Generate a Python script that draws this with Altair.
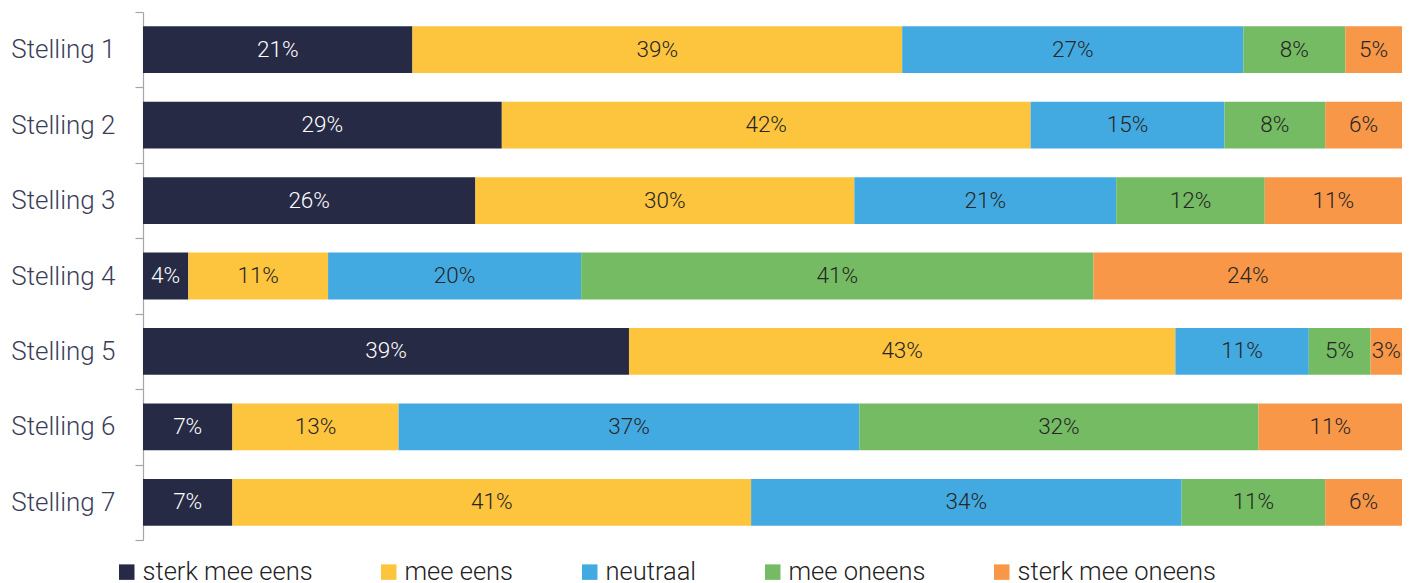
import altair as alt
import pandas as pd

stellingen = ["Stelling 1", "Stelling 2", "Stelling 3", "Stelling 4",
              "Stelling 5", "Stelling 6", "Stelling 7"]
categories = ["sterk mee eens", "mee eens", "neutraal", "mee oneens", "sterk mee oneens"]
colors = ["#272A45", "#FDC43E", "#43AAE1", "#74BB63", "#F89748"]

# shares per stelling (percent), order as categories
sterk_mee_eens = [21.4, 28.5, 26.4, 3.6, 38.6, 7.1, 7.1]
mee_eens = [38.9, 42.0, 30.1, 11.1, 43.4, 13.2, 41.2]
neutraal = [27.1, 15.4, 20.8, 20.1, 10.6, 36.6, 34.2]
mee_oneens = [8.1, 8.0, 11.8, 40.7, 4.9, 31.7, 11.4]
sterk_mee_oneens = [4.5, 6.1, 10.9, 24.5, 2.5, 11.4, 6.1]

# displayed labels
lbl_sterk_mee_eens = [21, 29, 26, 4, 39, 7, 7]
lbl_mee_eens = [39, 42, 30, 11, 43, 13, 41]
lbl_neutraal = [27, 15, 21, 20, 11, 37, 34]
lbl_mee_oneens = [8, 8, 12, 41, 5, 32, 11]
lbl_sterk_mee_oneens = [5, 6, 11, 24, 3, 11, 6]

series = [sterk_mee_eens, mee_eens, neutraal, mee_oneens, sterk_mee_oneens]
labels = [lbl_sterk_mee_eens, lbl_mee_eens, lbl_neutraal, lbl_mee_oneens, lbl_sterk_mee_oneens]

rows = []
for ci, cat in enumerate(categories):
    for si, st in enumerate(stellingen):
        rows.append({"stelling": st, "cat": cat, "order": ci,
                     "value": series[ci][si], "label": f"{labels[ci][si]}%"})
df = pd.DataFrame(rows)

FONT = "Roboto"

base = alt.Chart(df).transform_stack(
    stack="value", groupby=["stelling"], as_=["x0", "x1"],
    sort=[alt.SortField("order", order="ascending")]
)

y_enc = alt.Y(
    "stelling:N", sort=stellingen,
    scale=alt.Scale(paddingInner=0, paddingOuter=0),
    axis=alt.Axis(title=None, labelFont=FONT, labelFontSize=26, labelFontWeight=300,
                  labelColor="#3B3D58", labelPadding=20, tickSize=8, tickBand="extent",
                  domainColor="#A6A6A6", tickColor="#A6A6A6", domainWidth=1.2,
                  tickWidth=1.2, grid=False),
)

bars = base.mark_bar(height=alt.RelativeBandSize(0.62)).encode(
    y=y_enc,
    x=alt.X("x0:Q", scale=alt.Scale(domain=[0, 100]), axis=None),
    x2="x1:Q",
    color=alt.Color(
        "cat:N",
        scale=alt.Scale(domain=categories, range=colors),
        legend=alt.Legend(
            title=None, orient="none", legendX=-29, legendY=547,
            direction="horizontal", columns=5, symbolType="square",
            symbolSize=240, symbolStrokeWidth=0, symbolOpacity=1,
            labelFont=FONT, labelFontSize=25.5, labelFontWeight=300,
            labelColor="#222222", columnPadding=63, labelOffset=3,
            labelLimit=400, padding=0,
        ),
    ),
)

text = base.transform_calculate(mid="(datum.x0 + datum.x1) / 2").mark_text(
    font=FONT, fontSize=22.5, fontWeight=300
).encode(
    y=alt.Y("stelling:N", sort=stellingen),
    x=alt.X("mid:Q", axis=None),
    text="label:N",
    color=alt.condition("datum.cat === 'sterk mee eens'",
                        alt.value("#FFFFFF"), alt.value("#262626")),
)

chart = alt.layer(bars, text).properties(
    width=1259, height=528,
    autosize=alt.AutoSizeParams(type="none"),
    padding={"left": 135, "top": 4, "right": 1, "bottom": 46},
    background="white",
).configure_view(stroke=None)

chart.save("out.html", embed_options={"renderer": "svg", "actions": False})
